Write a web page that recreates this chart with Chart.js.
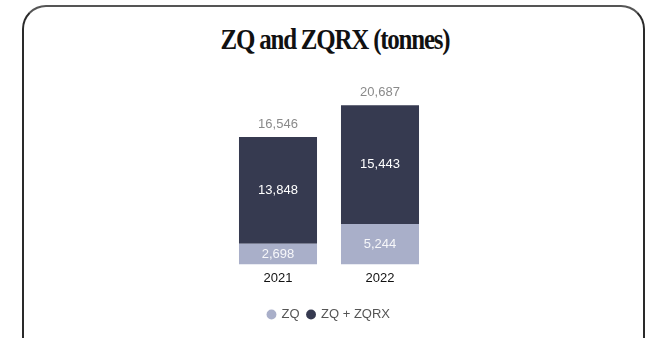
<!DOCTYPE html>
<html>
<head>
<meta charset="utf-8">
<script src="https://cdn.jsdelivr.net/npm/chart.js@4/dist/chart.umd.min.js"></script>
<style>
    body { margin: 0; background: #fff; width: 652px; height: 338px; overflow: hidden; position: relative; }
    .carte {
        position: absolute; left: 22px; top: 5px; width: 623px; height: 360px;
        border: 2px solid #2a2a2a; border-top-color: #555; border-radius: 24px; box-sizing: border-box;
    }
    .titre {
        position: absolute; left: 0; width: 670px; top: 23px; text-align: center;
        font-family: "Liberation Serif", serif; font-weight: bold; font-size: 29px;
        letter-spacing: -1.4px; color: #111; transform: scaleX(0.86); transform-origin: 335px 0;
    }
    canvas { position: absolute; left: 0; top: 0; }
</style>
</head>
<body>
<div class="carte"></div>
<div class="titre">ZQ and ZQRX (tonnes)</div>
<canvas id="graphique" width="652" height="338"></canvas>
<script>
const annees = ['2021', '2022'];
const valeursZQ = [2698, 5244];
const valeursZQRX = [13848, 15443];
const nomsSeries = ['ZQ', 'ZQ + ZQRX'];

const couleurClaire = '#a9afc9';
const couleurFoncee = '#363a50';

// étiquettes de valeur dans les barres + total au-dessus
const etiquettesPlugin = {
    id: 'etiquettes',
    afterDatasetsDraw(chart) {
        const ctx = chart.ctx;
        ctx.save();
        ctx.font = '13px "Liberation Sans", Arial, sans-serif';
        ctx.textAlign = 'center';
        ctx.textBaseline = 'middle';
        chart.data.datasets.forEach((ds, i) => {
            chart.getDatasetMeta(i).data.forEach((bar, j) => {
                ctx.fillStyle = i === 0 ? 'rgba(255,255,255,0.9)' : '#ffffff';
                ctx.fillText(ds.data[j].toLocaleString('en-US'), bar.x, (bar.y + bar.base) / 2);
            });
        });
        const dernier = chart.getDatasetMeta(chart.data.datasets.length - 1).data;
        dernier.forEach((bar, j) => {
            const total = valeursZQ[j] + valeursZQRX[j];
            ctx.fillStyle = '#8a8a8a';
            ctx.fillText(total.toLocaleString('en-US'), bar.x, bar.y - 13);
        });
        ctx.restore();
    }
};

new Chart(document.getElementById('graphique'), {
    type: 'bar',
    data: {
        labels: annees,
        datasets: [
            { label: nomsSeries[0], data: valeursZQ, backgroundColor: couleurClaire },
            { label: nomsSeries[1], data: valeursZQRX, backgroundColor: couleurFoncee }
        ]
    },
    options: {
        responsive: false,
        animation: false,
        layout: { padding: { left: 227, right: 221, top: 72, bottom: 7 } },
        datasets: { bar: { barPercentage: 0.765, categoryPercentage: 1 } },
        scales: {
            x: {
                stacked: true,
                grid: { display: false },
                border: { display: false },
                ticks: { color: '#111', padding: -2, font: { size: 13, family: '"Liberation Sans", Arial' } },
                // espace vide entre les années et la légende
                afterFit(scale) { scale.height += 16; }
            },
            y: { stacked: true, display: false, min: 0, max: 25000 }
        },
        plugins: {
            legend: {
                position: 'bottom',
                labels: {
                    usePointStyle: true, pointStyle: 'circle', boxWidth: 7, boxHeight: 7,
                    padding: 8, color: '#555',
                    font: { size: 13, family: '"Liberation Sans", Arial' }
                }
            },
            tooltip: { enabled: false }
        }
    },
    plugins: [etiquettesPlugin]
});
</script>
</body>
</html>
